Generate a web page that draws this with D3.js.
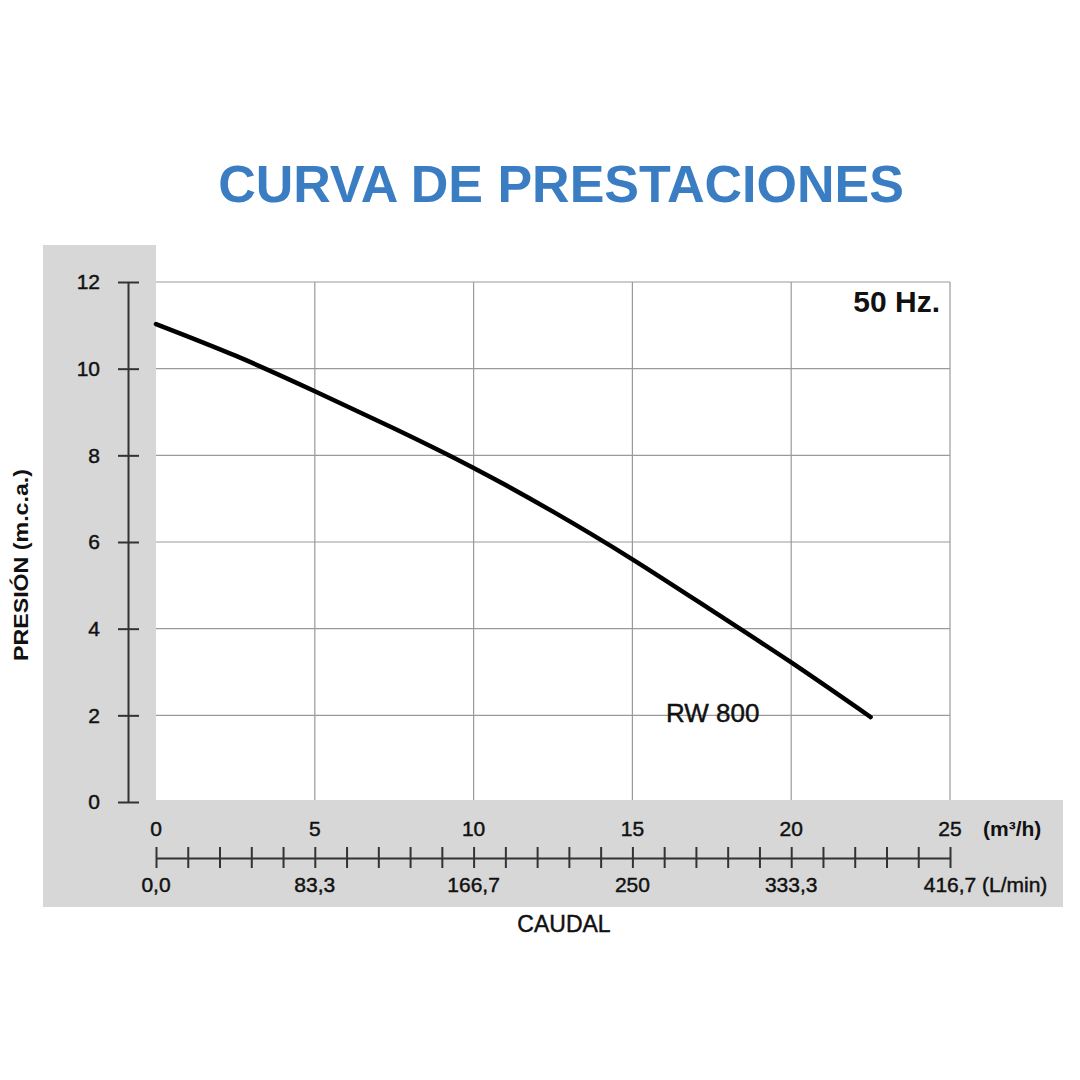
<!DOCTYPE html>
<html><head><meta charset="utf-8">
<script src="https://cdn.jsdelivr.net/npm/d3@7"></script>
<style>body{margin:0;background:#fff}svg{display:block}text{font-family:"Liberation Sans",Arial,sans-serif}</style>
</head><body>
<svg id="c" width="1080" height="1080"></svg>
<script>
const flow = [0, 2.5, 5, 7.5, 10, 12.5, 15, 17.5, 20, 22.5];
const head = [11.03, 10.3, 9.48, 8.62, 7.71, 6.7, 5.6, 4.42, 3.22, 1.96];
const yTicks = [0, 2, 4, 6, 8, 10, 12];
const xMajor = [0, 5, 10, 15, 20, 25];
const lminLabels = ["0,0", "83,3", "166,7", "250", "333,3", "416,7"];
const xMinor = d3.range(0, 26, 1);

const svg = d3.select("#c");
const x = d3.scaleLinear().domain([0, 25]).range([156, 950]);
const y = d3.scaleLinear().domain([0, 12]).range([802, 282]);

// gray panels
svg.append("rect").attr("x",43).attr("y",245).attr("width",113).attr("height",662).attr("fill","#d7d7d7");
svg.append("rect").attr("x",43).attr("y",800).attr("width",1020).attr("height",107).attr("fill","#d7d7d7");

// title
svg.append("text").attr("x",561).attr("y",202).attr("text-anchor","middle")
  .attr("font-size",52).attr("font-weight","bold").attr("fill","#3a7dc3").text("CURVA DE PRESTACIONES");

// grid
const grid = svg.append("g");
grid.selectAll("line.h").data(yTicks.filter(d=>d>0)).join("line")
  .attr("x1",156).attr("x2",950).attr("y1",d=>y(d)).attr("y2",d=>y(d))
  .attr("stroke","#9a9a9a").attr("stroke-width",1.2);
grid.selectAll("line.v").data(xMajor.filter(d=>d>0)).join("line")
  .attr("x1",d=>x(d)).attr("x2",d=>x(d)).attr("y1",282).attr("y2",800)
  .attr("stroke","#9a9a9a").attr("stroke-width",1.2);

const lab = s => s.attr("fill","#111").attr("stroke","#111").attr("stroke-width",0.45);

// y axis
const yAxis = d3.axisLeft(y).tickValues(yTicks).tickSizeInner(0).tickSizeOuter(0).tickFormat(d3.format("d")).tickPadding(28);
const ya = svg.append("g").attr("transform","translate(128,0)").call(yAxis);
ya.select(".domain").attr("stroke","#333").attr("stroke-width",2);
ya.selectAll(".tick line").attr("x1",-10).attr("x2",11).attr("stroke","#333").attr("stroke-width",2);
ya.selectAll(".tick text").attr("font-size",21).attr("font-family","Liberation Sans, Arial").call(lab);

// bottom flow axis
const xa = svg.append("g").attr("transform","translate(0,858)")
  .call(d3.axisBottom(x).tickValues(xMinor).tickSizeOuter(0).tickFormat(""));
xa.select(".domain").attr("stroke","#333").attr("stroke-width",2);
xa.selectAll(".tick line").attr("y1",-11).attr("y2",10).attr("stroke","#333").attr("stroke-width",2);

svg.append("g").selectAll("text").data(xMajor).join("text")
  .attr("x",d=>x(d)).attr("y",836).attr("text-anchor","middle").attr("font-size",21).call(lab)
  .text(d=>d);
svg.append("g").selectAll("text").data(lminLabels).join("text")
  .attr("x",(d,i)=>x(xMajor[i])).attr("y",892).attr("text-anchor","middle").attr("font-size",21).call(lab)
  .text(d=>d);
svg.append("text").attr("x",983).attr("y",836).attr("font-size",21).attr("font-weight","bold").attr("fill","#111").text("(m³/h)");
svg.append("text").attr("x",982).attr("y",892).attr("font-size",21).call(lab).text("(L/min)");

svg.append("text").attr("x",564).attr("y",932).attr("text-anchor","middle").attr("font-size",23).call(lab).text("CAUDAL");
svg.append("text").attr("transform","translate(28,565) rotate(-90)").attr("text-anchor","middle")
  .attr("font-size",21).attr("font-weight","bold").attr("fill","#111")
  .attr("textLength",192).attr("lengthAdjust","spacingAndGlyphs").text("PRESIÓN (m.c.a.)");

// labels
svg.append("text").attr("x",940).attr("y",312).attr("text-anchor","end").attr("font-size",30).attr("font-weight","bold").attr("fill","#111").text("50 Hz.");
svg.append("text").attr("x",666).attr("y",722).attr("font-size",26).call(lab).text("RW 800");

// curve
const pts = flow.map((q,i)=>[q, head[i]]);
svg.append("path").datum(pts)
  .attr("d", d3.line().x(d=>x(d[0])).y(d=>y(d[1])).curve(d3.curveNatural))
  .attr("fill","none").attr("stroke","#000").attr("stroke-width",4.5).attr("stroke-linecap","round");
</script>
</body></html>
